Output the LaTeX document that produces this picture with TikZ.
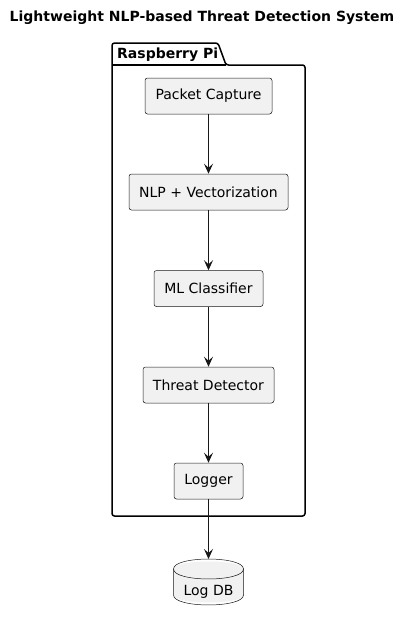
\documentclass[tikz,border=0pt]{standalone}
\usepackage{fontspec}
\setmainfont{DejaVu Sans}
\usetikzlibrary{arrows.meta}
\definecolor{edgecol}{HTML}{181818}
\definecolor{boxfill}{HTML}{F1F1F1}
\tikzset{
  comp/.style={draw=edgecol, line width=0.5pt, fill=boxfill, rounded corners=2.5pt,
    minimum height=36pt, inner sep=0pt, font=\fontsize{14}{16}\selectfont},
  flow/.style={draw=edgecol, line width=1pt, -{Stealth[length=10pt,width=9pt,inset=4pt]}},
  pkg/.style={draw=black, line width=1.5pt, rounded corners=2.5pt},
}
\begin{document}
\begin{tikzpicture}[x=1pt,y=-1pt]
\useasboundingbox (0,0) rectangle (411,621);
\node[font=\bfseries\fontsize{14}{16}\selectfont] (title) at (202,17.5) {Lightweight NLP-based Threat Detection System};
% package
\draw[pkg] (112,516) -- (112,43) -- (218,43) -- (226,65) -- (305,65) -- (305,516) -- cycle;
\draw[line width=1.5pt] (112,65) -- (226,65);
\node[anchor=base west, inner sep=0pt, font=\bfseries\fontsize{14}{16}\selectfont] (pkglabel) at (117,58) {Raspberry Pi};
% components
\node[comp, minimum width=127pt] (pc) at (208.5,96) {Packet Capture};
\node[comp, minimum width=159pt] (nlp) at (208.5,192) {NLP + Vectorization};
\node[comp, minimum width=109pt] (ml) at (208.5,288.5) {ML Classifier};
\node[comp, minimum width=131pt] (td) at (208.5,385) {Threat Detector};
\node[comp, minimum width=69pt] (lg) at (208.5,481) {Logger};
% database
\node[minimum width=70pt, minimum height=46pt, inner sep=0pt] (db) at (208.5,582) {};
\fill[boxfill] (173.5,569) .. controls (173.5,559) and (243.5,559) .. (243.5,569) -- (243.5,595) .. controls (243.5,605) and (173.5,605) .. (173.5,595) -- cycle;
\draw[edgecol, line width=0.5pt] (173.5,569) .. controls (173.5,555.7) and (243.5,555.7) .. (243.5,569)
  -- (243.5,595) .. controls (243.5,608.3) and (173.5,608.3) .. (173.5,595) -- cycle;
\draw[edgecol, line width=0.5pt] (173.5,569) .. controls (173.5,582.3) and (243.5,582.3) .. (243.5,569);
\node[inner sep=0pt, font=\fontsize{14}{16}\selectfont] (dblabel) at (208.5,591.5) {Log DB};
\coordinate (dbtop) at (208.5,559);
% connectors
\draw[flow] (pc) -- (nlp);
\draw[flow] (nlp) -- (ml);
\draw[flow] (ml) -- (td);
\draw[flow] (td) -- (lg);
\draw[flow] (lg) -- (dbtop);
\end{tikzpicture}
\end{document}
